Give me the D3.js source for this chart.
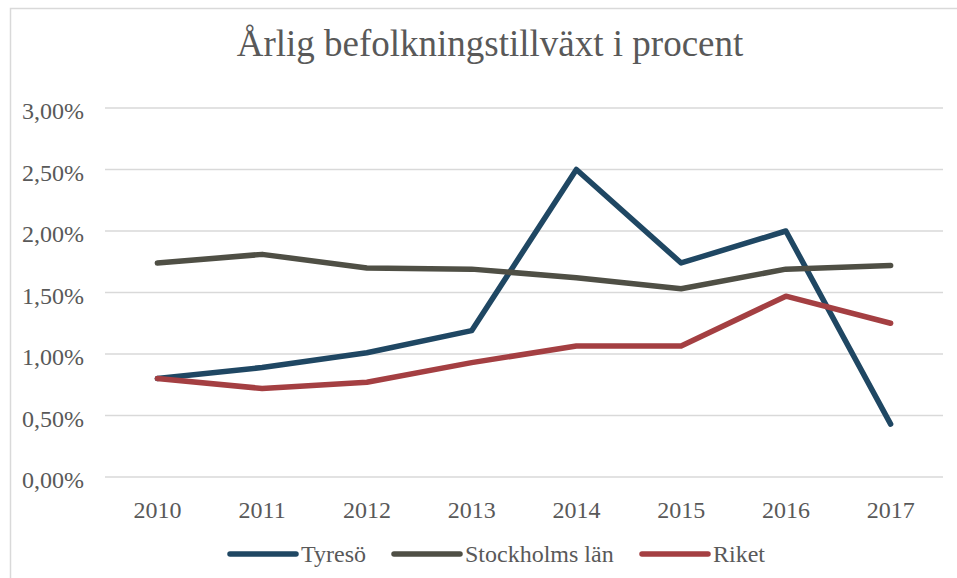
<!DOCTYPE html>
<html>
<head>
<meta charset="utf-8">
<script src="https://cdn.jsdelivr.net/npm/d3@7"></script>
<style>
  body { margin: 0; background: #fff; }
  svg { display: block; }
</style>
</head>
<body>
<svg width="957" height="578"></svg>
<script>
const years = [2010, 2011, 2012, 2013, 2014, 2015, 2016, 2017];
const tyreso = [0.80, 0.89, 1.01, 1.19, 2.50, 1.74, 2.00, 0.43];
const stockholm = [1.74, 1.81, 1.70, 1.69, 1.62, 1.53, 1.69, 1.72];
const riket = [0.80, 0.72, 0.77, 0.93, 1.065, 1.065, 1.47, 1.25];
const seriesNames = ["Tyresö", "Stockholms län", "Riket"];
const yTicks = [0, 0.5, 1, 1.5, 2, 2.5, 3];

const colors = ["#1f4763", "#4f4f45", "#a43f42"];
const series = [tyreso, stockholm, riket].map((v, i) => ({name: seriesNames[i], values: v, color: colors[i]}));

const font = "Liberation Serif, Times New Roman, serif";
const svg = d3.select("svg").attr("font-family", font);
const margin = {left: 105, right: 14, top: 108, bottom: 101};
const width = 957, height = 578;

// frame of the chart area
svg.append("rect")
  .attr("x", 10.5).attr("y", 8.5)
  .attr("width", 960).attr("height", 600)
  .attr("fill", "none").attr("stroke", "#d9d9d9").attr("stroke-width", 1.5);

const x = d3.scalePoint()
  .domain(years)
  .range([margin.left, width - margin.right])
  .padding(0.5);

const y = d3.scaleLinear()
  .domain([0, 3])
  .range([height - margin.bottom, margin.top]);

svg.append("text")
  .attr("x", 490).attr("y", 56)
  .attr("text-anchor", "middle")
  .attr("font-size", 37)
  .attr("fill", "#595959")
  .text("Årlig befolkningstillväxt i procent");

const grid = svg.append("g");
grid.selectAll("line")
  .data(yTicks)
  .join("line")
  .attr("x1", margin.left).attr("x2", width - margin.right)
  .attr("y1", d => y(d)).attr("y2", d => y(d))
  .attr("stroke", "#d9d9d9").attr("stroke-width", 1.5);

const fmt = d => d.toFixed(2).replace(".", ",") + "%";
svg.append("g").selectAll("text")
  .data(yTicks)
  .join("text")
  .attr("x", 84).attr("y", d => y(d) + 11)
  .attr("text-anchor", "end")
  .attr("font-size", 24)
  .attr("fill", "#595959")
  .text(fmt);

svg.append("g").selectAll("text")
  .data(years)
  .join("text")
  .attr("x", d => x(d)).attr("y", 518)
  .attr("text-anchor", "middle")
  .attr("font-size", 24)
  .attr("fill", "#595959")
  .text(d => d);

const line = d3.line()
  .x((d, i) => x(years[i]))
  .y(d => y(d));

svg.append("g").selectAll("path")
  .data(series)
  .join("path")
  .attr("d", d => line(d.values))
  .attr("fill", "none")
  .attr("stroke", d => d.color)
  .attr("stroke-width", 5.5)
  .attr("stroke-linejoin", "round")
  .attr("stroke-linecap", "round");

// legend
const legendX = [230, 394, 642];
const legend = svg.append("g").selectAll("g")
  .data(series)
  .join("g")
  .attr("transform", (d, i) => `translate(${legendX[i]},554)`);
legend.append("line")
  .attr("x1", 0).attr("x2", 66)
  .attr("stroke", d => d.color)
  .attr("stroke-width", 5.5)
  .attr("stroke-linecap", "round");
legend.append("text")
  .attr("x", 71).attr("y", 8)
  .attr("font-size", 24)
  .attr("fill", "#595959")
  .text(d => d.name);
</script>
</body>
</html>
